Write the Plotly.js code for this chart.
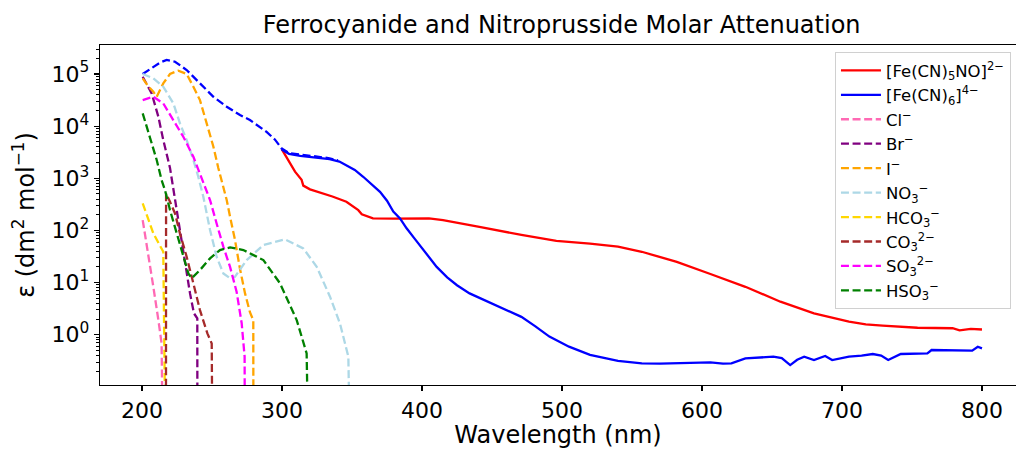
<!DOCTYPE html>
<html><head><meta charset="utf-8">
<script src="https://cdn.plot.ly/plotly-3.0.1.min.js"></script>
<style>html,body{margin:0;padding:0;background:#fff;} #chart{width:1016px;height:449px;}</style>
</head><body><div id="chart"></div>
<script>
// ---- data (wavelength nm, molar attenuation) ----
// values of 1e-3 mark where a curve drops below the visible axis
const nitroWl = [299.8,304.5,309.3,314,315.2,320,328,336,346,354.5,357,365,380,395,405,415,422,434,441,471,496,520,540,557,582,606,631,656,680,705,717,729,754,779,784,792,800];
const nitroEps = [3630,2240,1340,933,724,614,525,447,355,245,204,171,168,172,171,158,147,129,117,82,63,56,49,39,25,14.6,8.3,4.3,2.57,1.78,1.58,1.49,1.36,1.33,1.21,1.29,1.26];

const ferroWl = [299.8,305,313,325,334,341,346,352,358,364,370,375,379.5,384.3,389,395,401,410.5,418,425,434,441,456,471,481,491,505,520,540,557,570,582,595,606,615,621,631,640,651,657,663,668,673,680,688,693,705,714,722,728,733,742,752,761,764,775,784,793,797,800];
const ferroEps = [3550,2950,2690,2450,2340,2090,1780,1450,1070,776,550,372,229,170,110,68,41.7,20,12.6,8.9,6.2,5.1,3.4,2.2,1.45,0.92,0.59,0.41,0.316,0.282,0.279,0.282,0.288,0.295,0.279,0.282,0.352,0.363,0.379,0.355,0.262,0.331,0.379,0.327,0.391,0.327,0.379,0.398,0.427,0.398,0.327,0.427,0.427,0.44,0.509,0.50,0.509,0.494,0.589,0.548];

const ferroDashWl = [200.5,208.1,213,217.6,223.6,231.9,241.4,251,260.5,270,277.1,289,295,299.8,305,315,325,334,340];
const ferroDashEps = [100000,138000,166000,186000,172000,119000,66100,36600,23600,16300,13100,7760,5500,3720,3050,2800,2580,2420,2200];

const clWl = [200.5,204.5,208.1,211.7,214,215.2];
const clEps = [158,36.3,8.3,1.91,0.68,1e-3];

const brWl = [200.5,206.9,211.7,215.2,220,223.6,227.1,230.7,234.3,237.1,239.5,239.6];
const brEps = [88700,42500,15100,5410,1580,383,102,27,6.2,2.57,2.06,1e-3];

const iWl = [200.5,204,208.1,210.5,215.2,220,225.9,231.9,236.7,241.4,246.2,251,254.5,260.5,263,266.4,270,273.6,277.1,279.5,279.6];
const iEps = [82400,60300,45700,36600,66100,100000,116000,100000,57000,31600,11300,4030,1580,383,178,66,18.2,6.2,2.7,1.9,1e-3];

const no3Wl = [200.5,208.1,215.2,222.4,227.1,231.9,236.7,240.2,243.8,248.6,253.3,258.1,262.9,266.4,270,274.8,286.7,302.1,315.2,324.8,334.3,341.4,347.4,349];
const no3Eps = [100000,82400,57000,27300,11300,5410,2240,1070,444,102,31.3,15,12.1,12.9,17.8,27,52.5,67.5,45.3,20.1,5.36,1.65,0.38,1e-3];

const hco3Wl = [200.5,204.5,208.1,212,215.2,217.1];
const hco3Eps = [330,170,87.9,56,39.1,1e-3];

const co3Wl = [217.1,217.2,220,223.6,227.1,231.9,236.7,241.4,246.7,249.8,250.5];
const co3Eps = [1e-3,513,355,212,87.9,31.3,9.66,2.97,1.06,0.68,1e-3];

const so3Wl = [200.5,204,208.1,215.2,222.4,229.5,236.7,241.4,248.6,253.3,258.1,262.9,267.6,271.2,273.3,273.5];
const so3Eps = [31600,33900,36600,27300,13100,6270,2590,1240,383,136,48.8,20,6.6,1.66,0.38,1e-3];

const hso3Wl = [200.5,205.7,210.5,214,216.4,220,224.8,229.5,233.1,235.5,241.4,248.6,255.7,262.9,272.4,286.7,298.6,310.5,317.6,319.3];
const hso3Eps = [17600,6270,2240,925,594,246,87.9,31.3,15,12.1,17.4,29.1,42.1,47.3,42.1,27,9.66,1.91,0.44,1e-3];

const xTicks = [200,300,400,500,600,700,800];
const yTicks = [1,10,100,1000,10000,100000];
const yTickText = ['10<sup>0</sup>','10<sup>1</sup>','10<sup>2</sup>','10<sup>3</sup>','10<sup>4</sup>','10<sup>5</sup>'];

// ---- styling ----
const FONT = 'DejaVu Sans, Verdana, sans-serif';
const DASH = '8px,3.6px';
const W = 2.3;

const traces = [
  {x: nitroWl, y: nitroEps, name: '[Fe(CN)<sub>5</sub>NO]<sup>2−</sup>', line:{color:'red', width:W}},
  {x: ferroWl, y: ferroEps, name: '[Fe(CN)<sub>6</sub>]<sup>4−</sup>', line:{color:'blue', width:W}, legendgroup:'ferro'},
  {x: ferroDashWl, y: ferroDashEps, name: 'ferro dash', line:{color:'blue', width:W, dash:DASH}, legendgroup:'ferro', showlegend:false},
  {x: clWl, y: clEps, name: 'Cl<sup>−</sup>', line:{color:'hotpink', width:W, dash:DASH}},
  {x: brWl, y: brEps, name: 'Br<sup>−</sup>', line:{color:'purple', width:W, dash:DASH}},
  {x: iWl, y: iEps, name: 'I<sup>−</sup>', line:{color:'orange', width:W, dash:DASH}},
  {x: no3Wl, y: no3Eps, name: 'NO<sub>3</sub><sup>−</sup>', line:{color:'lightblue', width:W, dash:DASH}},
  {x: hco3Wl, y: hco3Eps, name: 'HCO<sub>3</sub><sup>−</sup>', line:{color:'gold', width:W, dash:DASH}},
  {x: co3Wl, y: co3Eps, name: 'CO<sub>3</sub><sup>2−</sup>', line:{color:'brown', width:W, dash:DASH}},
  {x: so3Wl, y: so3Eps, name: 'SO<sub>3</sub><sup>2−</sup>', line:{color:'magenta', width:W, dash:DASH}},
  {x: hso3Wl, y: hso3Eps, name: 'HSO<sub>3</sub><sup>−</sup>', line:{color:'green', width:W, dash:DASH}}
].map(t => Object.assign({type:'scatter', mode:'lines', hoverinfo:'skip'}, t));

const minorVals = [];
for (let e = -1; e <= 5; e++) for (let m = 2; m <= 9; m++) minorVals.push(m * Math.pow(10, e));

const layout = {
  width: 1016, height: 449,
  margin: {l: 100, r: 0, t: 45, b: 64},
  paper_bgcolor: 'white', plot_bgcolor: 'white',
  font: {family: FONT, color: 'black'},
  title: {text: 'Ferrocyanide and Nitroprusside Molar Attenuation', font: {size: 24, family: FONT, color: 'black'},
          x: 0.504, xref: 'paper', xanchor: 'center', y: 0.946, yanchor: 'middle'},
  xaxis: {range: [170, 824.3], tickmode: 'array', tickvals: xTicks, ticks: 'outside', ticklen: 5, tickwidth: 1.2,
          tickcolor: 'black', showline: true, linecolor: 'black', linewidth: 1.2, mirror: true,
          showgrid: false, zeroline: false, tickfont: {size: 22, family: FONT},
          title: {text: 'Wavelength (nm)', font: {size: 24, family: FONT}, standoff: 6}},
  yaxis: {type: 'log', range: [-0.964, 5.556], tickmode: 'array', tickvals: yTicks, ticktext: yTickText,
          ticks: 'outside', ticklen: 5, tickwidth: 1.2, tickcolor: 'black',
          minor: {tickmode: 'array', tickvals: minorVals, ticks: 'outside', ticklen: 3, tickwidth: 1, tickcolor: 'black', showgrid: false},
          showline: true, linecolor: 'black', linewidth: 1.2, showgrid: false, zeroline: false,
          tickfont: {size: 22, family: FONT},
          title: {text: 'ε (dm<sup>2</sup> mol<sup>−1</sup>)', font: {size: 24, family: FONT}, standoff: 10}},
  legend: {x: 0.9945, xanchor: 'right', y: 0.979, yanchor: 'top', bgcolor: 'white',
           bordercolor: '#d0d0d0', borderwidth: 1, font: {size: 16.5, family: FONT}, tracegroupgap: 0, itemwidth: 40},
  showlegend: true
};

Plotly.newPlot('chart', traces, layout, {staticPlot: true, displayModeBar: false});
</script>
</body></html>
